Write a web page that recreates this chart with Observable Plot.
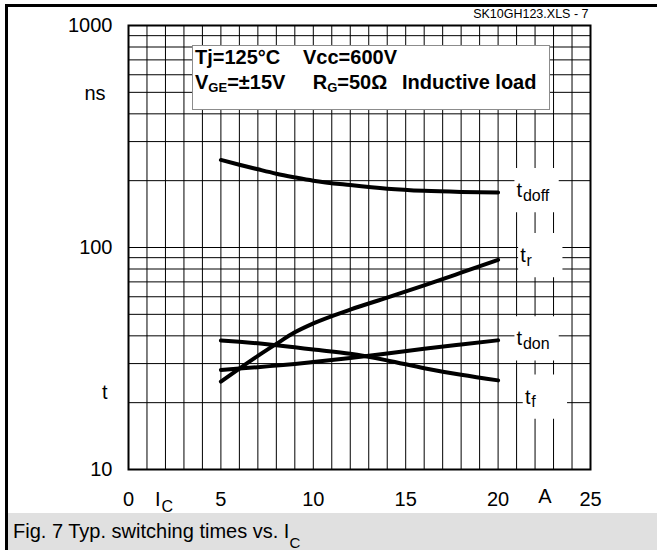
<!DOCTYPE html>
<html><head><meta charset="utf-8">
<script src="https://cdn.jsdelivr.net/npm/d3@7"></script>
<script src="https://cdn.jsdelivr.net/npm/@observablehq/plot@0.6"></script>
<style>
html,body{margin:0;padding:0;background:#fff;overflow:hidden;}
#wrap{position:relative;width:657px;height:550px;overflow:hidden;font-family:"Liberation Sans",Arial,sans-serif;color:#000;}
#wrap svg{position:absolute;left:0;top:0;}
.frame{position:absolute;left:5px;top:4px;width:700px;height:600px;border-top:3px solid #000;border-left:3px solid #000;pointer-events:none;}
.caption{position:absolute;left:8px;top:513px;width:649px;height:37px;background:#e0e0e0;}
.caption span.t{position:absolute;left:5px;top:8px;font-size:20px;line-height:20px;white-space:nowrap;}
.sub{position:relative;}
.legend{position:absolute;left:192px;top:45px;width:358px;height:65px;border:1px solid #8c8c8c;background:#fff;box-sizing:border-box;}
.lg{position:absolute;font-size:20px;line-height:20px;font-weight:bold;white-space:nowrap;}
</style></head><body><div id="wrap"></div>
<script>
// Collector current I_C (A)
const ic = [5, 6, 7, 8, 9, 10, 12, 14, 16, 18, 20];
// switching times (ns)
const tdoff = [248, 236, 225, 215, 207, 200, 191, 184, 180, 178, 177];
const tr    = [24.9, 28.5, 32.5, 36.8, 41.5, 45.5, 52.5, 59.5, 67.5, 77, 88];
const tdon  = [28.1, 28.5, 28.9, 29.4, 29.9, 30.5, 31.8, 33.3, 35.0, 36.6, 38.2];
const tf    = [38.1, 37.6, 37.0, 36.3, 35.5, 34.7, 33.2, 31.0, 28.6, 26.7, 25.2];

const seriesNames = ["doff", "r", "don", "f"];
const seriesValues = [tdoff, tr, tdon, tf];
// label anchors (I_C, ns)
const labelX = [21.0, 21.2, 21.0, 21.45];
const labelY = [168.5, 85.9, 36.2, 19.8];

const xTicks = [0, 5, 10, 15, 20, 25];
const yTicks = [10, 100, 1000];
const xGrid = d3.range(0, 26);
const yGrid = [10,20,30,40,50,60,70,80,90,100,200,300,400,500,600,700,800,900,1000];

const data = seriesNames.flatMap((s, i) => ic.map((x, j) => ({series: s, ic: x, t: seriesValues[i][j]})));
const labels = seriesNames.map((s, i) => ({sub: s, lx: labelX[i], ly: labelY[i]}));

const font = "Liberation Sans, Arial, sans-serif";
const chart = Plot.plot({
  width: 657, height: 513,
  marginLeft: 128, marginRight: 67, marginTop: 25, marginBottom: 44,
  x: {type: "linear", domain: [0, 25], axis: null},
  y: {type: "log", domain: [10, 1000], axis: null},
  style: {fontFamily: font, background: "transparent", overflow: "visible", color: "#000"},
  marks: [
    Plot.ruleX(xGrid, {x: d => d, stroke: "#000", strokeWidth: 1}),
    Plot.ruleY(yGrid, {y: d => d, stroke: "#000", strokeWidth: 1}),
    Plot.dot(labels, {x: "lx", y: "ly", symbol: "square", r: 25, fill: "white", stroke: null, dx: 20, dy: -7}),
    Plot.frame({stroke: "#000", strokeWidth: 2}),
    Plot.line(data, {x: "ic", y: "t", z: "series", stroke: "#000", strokeWidth: 4, curve: "monotone-x"}),
    Plot.text(labels, {x: "lx", y: "ly", text: () => "t", textAnchor: "start", lineAnchor: "bottom", fontSize: 20, fill: "#000"}),
    Plot.text(labels, {x: "lx", y: "ly", text: "sub", textAnchor: "start", lineAnchor: "bottom", fontSize: 16, dx: 6.3, dy: 3.5, fill: "#000"}),
    Plot.text(xTicks, {x: d => d, text: d => String(d), frameAnchor: "bottom", dy: 36, lineAnchor: "bottom", fontSize: 20, fill: "#000"}),
    Plot.text(yTicks, {y: d => d, text: d => String(d), frameAnchor: "left", dx: -16, textAnchor: "end", lineAnchor: "middle", fontSize: 20, fill: "#000"}),
    Plot.text(["ns"], {text: d => d, frameAnchor: "top-left", dx: -23, dy: 74, textAnchor: "end", lineAnchor: "bottom", fontSize: 20, fill: "#000"}),
    Plot.text(["t"], {text: d => d, frameAnchor: "top-left", dx: -21, dy: 373, textAnchor: "end", lineAnchor: "bottom", fontSize: 20, fill: "#000"}),
    Plot.text(["I"], {text: d => d, frameAnchor: "bottom-left", dx: 26.5, dy: 36, textAnchor: "start", lineAnchor: "bottom", fontSize: 20, fill: "#000"}),
    Plot.text(["C"], {text: d => d, frameAnchor: "bottom-left", dx: 33, dy: 42.5, textAnchor: "start", lineAnchor: "bottom", fontSize: 16, fill: "#000"}),
    Plot.text(["A"], {text: d => d, frameAnchor: "bottom-left", dx: 416.5, dy: 33, textAnchor: "middle", lineAnchor: "bottom", fontSize: 20, fill: "#000"}),
    Plot.text(["SK10GH123.XLS - 7"], {text: d => d, frameAnchor: "top-right", dx: -2, dy: -8, textAnchor: "end", lineAnchor: "bottom", fontSize: 12.5, fill: "#000"})
  ]
});

const wrap = document.getElementById("wrap");
wrap.appendChild(chart);

const legend = document.createElement("div");
legend.className = "legend";
wrap.appendChild(legend);

function lg(html, left, baseline) {
  const s = document.createElement("span");
  s.className = "lg";
  s.style.left = left + "px";
  s.style.top = (baseline - 17) + "px";
  s.innerHTML = html;
  wrap.appendChild(s);
}
lg("Tj=125°C", 195, 64);
lg("Vcc=600V", 303, 64);
lg('V<span class="sub" style="font-size:13px;top:3px">GE</span>=±15V', 195, 89);
lg('R<span class="sub" style="font-size:13px;top:3px">G</span>=50Ω', 312.7, 89);
lg("Inductive load", 402, 89);

const cap = document.createElement("div");
cap.className = "caption";
cap.innerHTML = '<span class="t">Fig. 7 Typ. switching times vs. I<span class="sub" style="font-size:15px;top:10px">C</span></span>';
wrap.appendChild(cap);

const frame = document.createElement("div");
frame.className = "frame";
wrap.appendChild(frame);
</script>
</body></html>
